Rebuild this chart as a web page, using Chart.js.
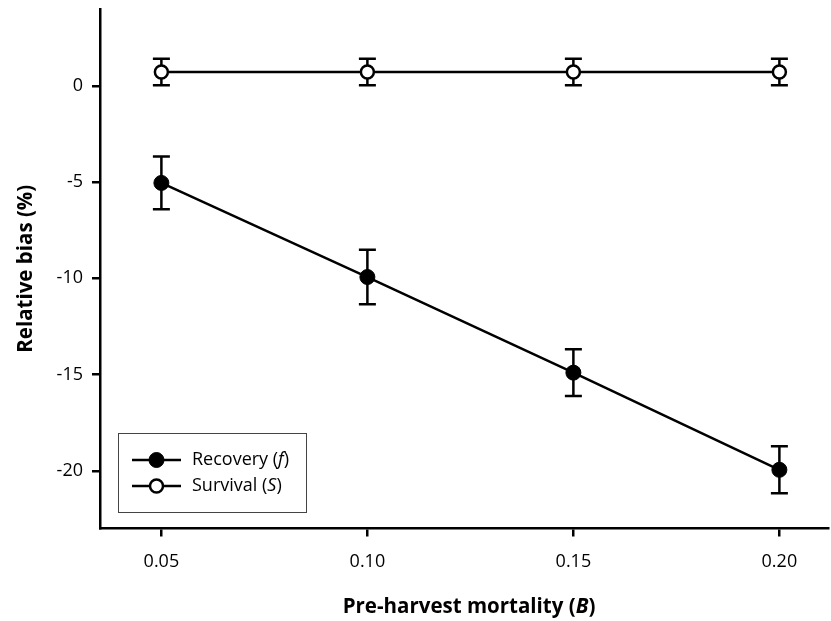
<!DOCTYPE html>
<html>
<head>
<meta charset="utf-8">
<script src="https://cdn.jsdelivr.net/npm/chart.js@4.4.0/dist/chart.umd.min.js"></script>
<style>
html, body { margin: 0; padding: 0; background: #fff; }
</style>
</head>
<body>
<canvas id="container" width="831" height="621"></canvas>
<script>
// pre-harvest mortality levels and the relative bias (%) of each estimate
var mortality = [0.05, 0.10, 0.15, 0.20];
var recoveryBias = [-5.04, -9.93, -14.9, -19.95];
var recoveryErr = [1.37, 1.42, 1.22, 1.22];
var survivalBias = [0.73, 0.73, 0.73, 0.73];
var survivalErr = [0.69, 0.69, 0.69, 0.69];
var xTicks = [0.05, 0.10, 0.15, 0.20];
var yTicks = [-20, -15, -10, -5, 0];

var FONT = '"Open Sans", "DejaVu Sans", sans-serif';
Chart.defaults.font.family = FONT;
Chart.defaults.color = '#000';

function toPoints(xs, ys) {
    return xs.map(function(x, i) { return { x: x, y: ys[i] }; });
}

// draws text made of plain / italic pieces, e.g. "Survival (" + italic "S" + ")"
function drawRich(ctx, parts, x, y, size, weight, align) {
    var total = 0;
    parts.forEach(function(p) {
        ctx.font = (p.i ? 'italic ' : '') + weight + ' ' + size + 'px ' + FONT;
        p.w = ctx.measureText(p.t).width;
        total += p.w;
    });
    var cx = align === 'center' ? x - total / 2 : x;
    ctx.textAlign = 'left';
    ctx.textBaseline = 'middle';
    ctx.fillStyle = '#000';
    parts.forEach(function(p) {
        ctx.font = (p.i ? 'italic ' : '') + weight + ' ' + size + 'px ' + FONT;
        ctx.fillText(p.t, cx, y);
        cx += p.w;
    });
}

var errorBars = {
    id: 'errorBars',
    beforeDatasetsDraw: function(chart) {
        var ctx = chart.ctx, xs = chart.scales.x, ys = chart.scales.y;
        ctx.save();
        ctx.strokeStyle = '#000';
        ctx.lineWidth = 2.5;
        chart.data.datasets.forEach(function(ds) {
            ds.data.forEach(function(p, i) {
                var px = xs.getPixelForValue(p.x);
                var hi = ys.getPixelForValue(p.y + ds.errors[i]);
                var lo = ys.getPixelForValue(p.y - ds.errors[i]);
                ctx.beginPath();
                ctx.moveTo(px, hi); ctx.lineTo(px, lo);
                ctx.moveTo(px - 8.5, hi); ctx.lineTo(px + 8.5, hi);
                ctx.moveTo(px - 8.5, lo); ctx.lineTo(px + 8.5, lo);
                ctx.stroke();
            });
        });
        ctx.restore();
    }
};

var decorations = {
    id: 'decorations',
    afterDraw: function(chart) {
        var ctx = chart.ctx, area = chart.chartArea;
        ctx.save();

        // axis titles
        drawRich(ctx, [{ t: 'Pre-harvest mortality (' }, { t: 'B', i: true }, { t: ')' }],
            469, 607, 20.5, 'bold', 'center');
        ctx.save();
        ctx.translate(26, (area.top + area.bottom) / 2);
        ctx.rotate(-Math.PI / 2);
        drawRich(ctx, [{ t: 'Relative bias (%)' }], 0, 0, 20.5, 'bold', 'center');
        ctx.restore();

        // legend box
        ctx.strokeStyle = '#444';
        ctx.lineWidth = 1;
        ctx.strokeRect(118.5, 433.5, 188, 79);
        var rows = [
            { y: 460, ds: chart.data.datasets[0], parts: [{ t: 'Recovery (' }, { t: 'f', i: true }, { t: ')' }] },
            { y: 486, ds: chart.data.datasets[1], parts: [{ t: 'Survival (' }, { t: 'S', i: true }, { t: ')' }] }
        ];
        rows.forEach(function(r) {
            ctx.strokeStyle = '#000';
            ctx.lineWidth = 2.5;
            ctx.beginPath();
            ctx.moveTo(132, r.y); ctx.lineTo(181, r.y);
            ctx.stroke();
            ctx.beginPath();
            ctx.arc(156.5, r.y, r.ds.pointRadius, 0, Math.PI * 2);
            ctx.fillStyle = r.ds.pointBackgroundColor;
            ctx.fill();
            ctx.lineWidth = r.ds.pointBorderWidth;
            ctx.stroke();
            drawRich(ctx, r.parts, 192, r.y, 18, 'normal', 'left');
        });
        ctx.restore();
    }
};

var chart = new Chart(document.getElementById('container'), {
    type: 'line',
    data: {
        datasets: [
            {
                label: 'Recovery (f)',
                data: toPoints(mortality, recoveryBias),
                errors: recoveryErr,
                borderColor: '#000',
                borderWidth: 2.5,
                pointRadius: 7.5,
                pointBackgroundColor: '#000',
                pointBorderColor: '#000',
                pointBorderWidth: 1
            },
            {
                label: 'Survival (S)',
                data: toPoints(mortality, survivalBias),
                errors: survivalErr,
                borderColor: '#000',
                borderWidth: 2.5,
                pointRadius: 6.5,
                pointBackgroundColor: '#fff',
                pointBorderColor: '#000',
                pointBorderWidth: 2.5
            }
        ]
    },
    options: {
        responsive: false,
        animation: false,
        layout: { autoPadding: false, padding: { top: 9, right: 3, left: 0, bottom: 0 } },
        plugins: {
            legend: { display: false },
            tooltip: { enabled: false }
        },
        scales: {
            x: {
                type: 'linear',
                min: 0.0351,
                max: 0.2118,
                afterBuildTicks: function(scale) {
                    scale.ticks = xTicks.map(function(v) { return { value: v }; });
                },
                afterFit: function(scale) {
                    scale.height = 92.5;
                    scale.paddingLeft = 0;
                    scale.paddingRight = 0;
                },
                ticks: {
                    font: { size: 18 },
                    padding: 15,
                    maxRotation: 0,
                    callback: function(v) { return v.toFixed(2); }
                },
                grid: { drawOnChartArea: false, color: '#000', lineWidth: 2.5, tickLength: 8 },
                border: { color: '#000', width: 2.5 }
            },
            y: {
                min: -23,
                max: 4,
                afterBuildTicks: function(scale) {
                    scale.ticks = yTicks.map(function(v) { return { value: v }; });
                },
                afterFit: function(scale) {
                    scale.width = 100;
                    scale.paddingTop = 0;
                    scale.paddingBottom = 0;
                },
                ticks: {
                    font: { size: 18 },
                    padding: 9
                },
                grid: { drawOnChartArea: false, color: '#000', lineWidth: 2.5, tickLength: 8 },
                border: { color: '#000', width: 2.5 }
            }
        }
    },
    plugins: [errorBars, decorations]
});
</script>
</body>
</html>
